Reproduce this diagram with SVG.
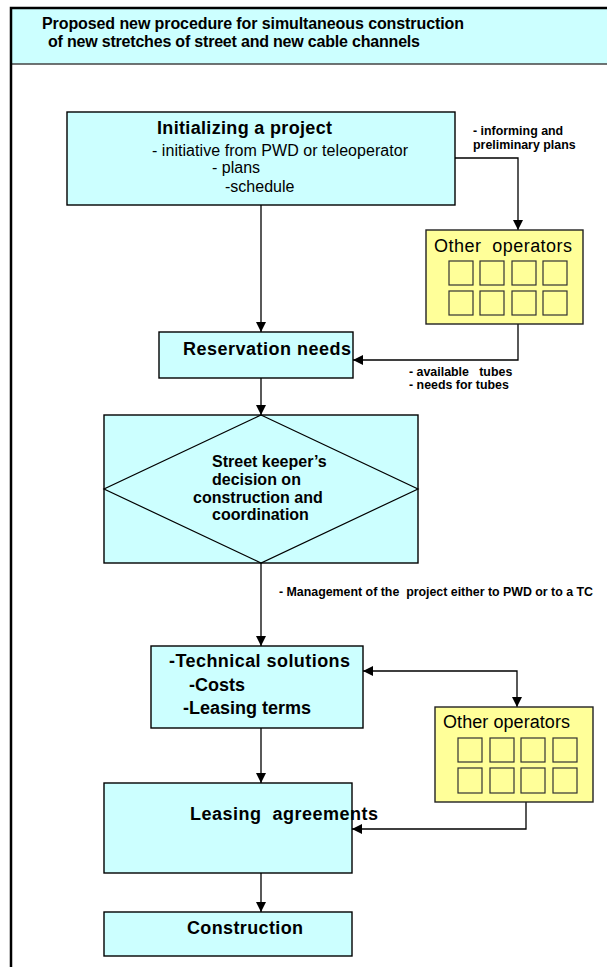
<svg xmlns="http://www.w3.org/2000/svg" width="607" height="967" viewBox="0 0 607 967">
<style>
text{font-family:"Liberation Sans",Arial,sans-serif;fill:#000;white-space:pre}
.b{font-weight:bold}
.cy{fill:#CCFFFF;stroke:#000;stroke-width:1.4}
.ye{fill:#FFFF99;stroke:#222;stroke-width:1.4}
.sq{fill:#FFFF99;stroke:#333;stroke-width:1.2}
.c{fill:none;stroke:#000;stroke-width:1.3}
.lbl{font-size:12.4px;font-weight:bold}
</style>
<defs>
<marker id="ah" viewBox="0 0 10 10" refX="10" refY="5" markerWidth="10" markerHeight="10" markerUnits="userSpaceOnUse" orient="auto-start-reverse">
<path d="M0,0 L10,5 L0,10 z" fill="#000"/>
</marker>
</defs>
<rect width="607" height="967" fill="#fff"/>
<g id="frame">
<rect x="11" y="8" width="610" height="56" fill="#CCFFFF" stroke="none"/>
<line x1="11" y1="64" x2="607" y2="64" stroke="#444" stroke-width="1.5"/>
<rect x="11" y="8" width="620" height="980" fill="none" stroke="#000" stroke-width="2.5"/>
<text class="b" x="42" y="29" font-size="16" textLength="422" lengthAdjust="spacing">Proposed new procedure for simultaneous construction</text>
<text class="b" x="48" y="47" font-size="16" textLength="372" lengthAdjust="spacing">of new stretches of street and new cable channels</text>
</g>
<g id="connectors">
<path class="c" d="M261,205 V332" marker-end="url(#ah)"/>
<path class="c" d="M455,158 H518 V230" marker-end="url(#ah)"/>
<path class="c" d="M518,324 V360 H353" marker-end="url(#ah)"/>
<path class="c" d="M261,378 V415" marker-end="url(#ah)"/>
<path class="c" d="M261,563 V646" marker-end="url(#ah)"/>
<path class="c" d="M363,671 H517 V707" marker-start="url(#ah)" marker-end="url(#ah)"/>
<path class="c" d="M261,728 V783" marker-end="url(#ah)"/>
<path class="c" d="M526,802 V829 H352" marker-end="url(#ah)"/>
<path class="c" d="M261,873 V912" marker-end="url(#ah)"/>
<text class="lbl" x="473" y="135">- informing and</text>
<text class="lbl" x="473" y="149">preliminary plans</text>
<text class="lbl" x="409" y="376">- available   tubes</text>
<text class="lbl" x="409" y="389">- needs for tubes</text>
<text class="lbl" x="279" y="596" textLength="314" lengthAdjust="spacing">- Management of the  project either to PWD or to a TC</text>
</g>
<g id="init">
<rect class="cy" x="67" y="112" width="388" height="93"/>
<text class="b" x="157" y="134" font-size="18" textLength="175" lengthAdjust="spacing">Initializing a project</text>
<text x="152" y="156" font-size="16" textLength="256" lengthAdjust="spacing">- initiative from PWD or teleoperator</text>
<text x="212" y="173" font-size="16">- plans</text>
<text x="225" y="192" font-size="16">-schedule</text>
</g>
<g id="others1">
<rect class="ye" x="426" y="230" width="157" height="94"/>
<text x="434" y="252" font-size="18" textLength="138" lengthAdjust="spacing">Other  operators</text>
<rect class="sq" x="449" y="261" width="24" height="24"/>
<rect class="sq" x="480" y="261" width="24" height="24"/>
<rect class="sq" x="512" y="261" width="24" height="24"/>
<rect class="sq" x="543" y="261" width="24" height="24"/>
<rect class="sq" x="449" y="291" width="24" height="24"/>
<rect class="sq" x="480" y="291" width="24" height="24"/>
<rect class="sq" x="512" y="291" width="24" height="24"/>
<rect class="sq" x="543" y="291" width="24" height="24"/>
</g>
<g id="reservation">
<rect class="cy" x="159" y="332" width="194" height="46"/>
<text class="b" x="183" y="355" font-size="18" textLength="168" lengthAdjust="spacing">Reservation needs</text>
</g>
<g id="decision">
<rect class="cy" x="104" y="415" width="314" height="148"/>
<polygon points="261,415 418,489 261,563 104,489" fill="none" stroke="#000" stroke-width="1.2"/>
<text class="b" x="212" y="467" font-size="16">Street keeper’s</text>
<text class="b" x="212" y="485" font-size="16">decision on</text>
<text class="b" x="193" y="503" font-size="16">construction and</text>
<text class="b" x="212" y="520" font-size="16">coordination</text>
</g>
<g id="technical">
<rect class="cy" x="151" y="646" width="212" height="82"/>
<text class="b" x="169" y="667" font-size="18" textLength="181" lengthAdjust="spacing">-Technical solutions</text>
<text class="b" x="189" y="691" font-size="18">-Costs</text>
<text class="b" x="183" y="714" font-size="18">-Leasing terms</text>
</g>
<g id="others2">
<rect class="ye" x="435" y="707" width="158" height="95"/>
<text x="443" y="728" font-size="18" textLength="127" lengthAdjust="spacing">Other operators</text>
<rect class="sq" x="458" y="738" width="24" height="24"/>
<rect class="sq" x="490" y="738" width="24" height="24"/>
<rect class="sq" x="521" y="738" width="24" height="24"/>
<rect class="sq" x="553" y="738" width="24" height="24"/>
<rect class="sq" x="458" y="768" width="24" height="25"/>
<rect class="sq" x="490" y="768" width="24" height="25"/>
<rect class="sq" x="521" y="768" width="24" height="25"/>
<rect class="sq" x="553" y="768" width="24" height="25"/>
</g>
<g id="leasing">
<rect class="cy" x="104" y="783" width="248" height="90"/>
<text class="b" x="190" y="820" font-size="18" textLength="188" lengthAdjust="spacing">Leasing  agreements</text>
</g>
<g id="construction">
<rect class="cy" x="104" y="912" width="248" height="44"/>
<text class="b" x="187" y="934" font-size="18" textLength="116" lengthAdjust="spacing">Construction</text>
</g>
</svg>
